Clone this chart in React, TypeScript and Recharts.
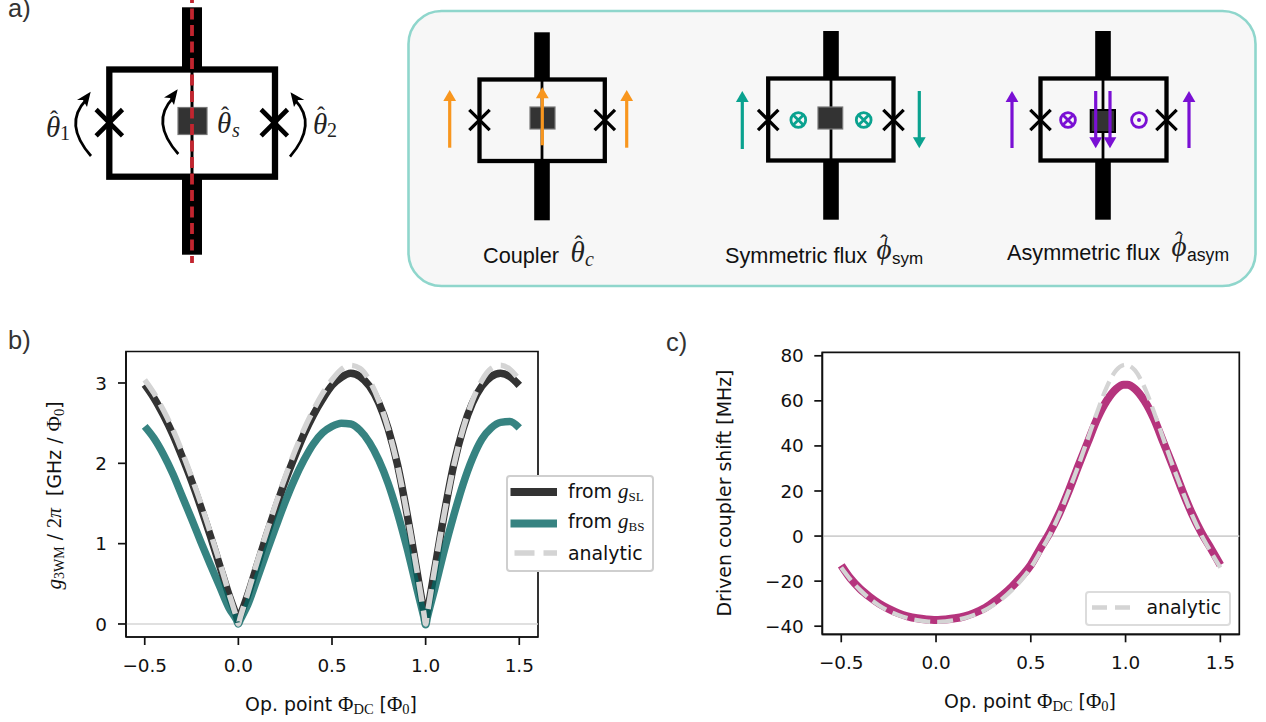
// Flux-biased SNAIL coupler figure: schematic on top, g3WM and driven shift below.
import { LineChart, Line, XAxis, YAxis, Legend, Label, ReferenceArea, ReferenceLine } from "recharts";

const SANS = "'DejaVu Sans', sans-serif";
const SERIF = "'Liberation Serif', serif";
const ARIAL = "'Liberation Sans', sans-serif";
const TICK_SIZE = 18.4;
const LABEL_SIZE = 18.9;

const xTicks = [-0.5, 0, 0.5, 1, 1.5];
const gTicks = [0, 1, 2, 3];
const shiftTicks = [-40, -20, 0, 20, 40, 60, 80];

const flux = [
  -0.5, -0.45, -0.4, -0.35, -0.3, -0.25, -0.2, -0.15, -0.1, -0.05,
  -0.01, 0, 0.01,
  0.05, 0.1, 0.15, 0.2, 0.25, 0.3, 0.35, 0.4, 0.45, 0.5, 0.55, 0.6, 0.65, 0.7, 0.75, 0.8, 0.85, 0.9, 0.95,
  0.99, 1, 1.01,
  1.05, 1.1, 1.15, 1.2, 1.25, 1.3, 1.35, 1.4, 1.45, 1.5,
];

const gSL = [
  2.98, 2.81, 2.6, 2.36, 2.08, 1.78, 1.45, 1.1, 0.73, 0.36,
  0.1, 0.03, 0.1,
  0.36, 0.73, 1.1, 1.45, 1.78, 2.08, 2.36, 2.6, 2.8, 2.97, 3.07, 3.12, 3.08, 2.96, 2.75, 2.43, 1.98, 1.38, 0.7,
  0.16, 0.04, 0.16,
  0.7, 1.38, 1.98, 2.43, 2.75, 2.96, 3.08, 3.12, 3.08, 2.97,
];
const gBS = [
  2.46, 2.31, 2.11, 1.87, 1.59, 1.31, 1.02, 0.74, 0.47, 0.2,
  0.05, 0, 0.05,
  0.24, 0.56, 0.89, 1.21, 1.52, 1.8, 2.04, 2.24, 2.38, 2.46, 2.5, 2.49, 2.41, 2.26, 2.04, 1.75, 1.38, 0.95, 0.47,
  0.09, -0.01, 0.09,
  0.45, 0.92, 1.35, 1.74, 2.06, 2.3, 2.44, 2.51, 2.52, 2.44,
];
const gAnalytic = [
  3.04, 2.87, 2.66, 2.42, 2.14, 1.83, 1.5, 1.14, 0.77, 0.38,
  0.08, 0, 0.08,
  0.38, 0.77, 1.14, 1.5, 1.83, 2.14, 2.42, 2.66, 2.87, 3.04, 3.17, 3.22, 3.18, 3.03, 2.78, 2.43, 1.97, 1.38, 0.71,
  0.14, 0, 0.14,
  0.71, 1.38, 1.97, 2.43, 2.78, 3.03, 3.18, 3.22, 3.17, 3.04,
];
const shift = [
  -13, -19, -23.5, -27, -30, -32.3, -34.2, -35.6, -36.5, -37,
  -37.2, -37.2, -37.2,
  -37, -36.5, -35.6, -34.2, -32.3, -29.5, -26.3, -22.5, -18, -12.8, -5.5, 1.5, 10, 20, 31, 41.5, 52, 60, 65.3,
  67.2, 67.2, 67.2,
  65.3, 60, 52, 41.5, 31, 20, 10, 1.5, -5.5, -12.8,
];
const shiftAnalytic = [
  -14, -19.5, -24, -27.8, -30.8, -33.2, -35, -36.4, -37.3, -37.9,
  -38.1, -38.1, -38.1,
  -37.9, -37.3, -36.4, -35, -33.2, -30.8, -27.8, -24, -19.5, -14, -7, 0.5, 9.5, 20, 31, 43, 55, 66, 73.5,
  75.9, 76, 75.9,
  73.5, 66, 55, 43, 31, 20, 9.5, 0.5, -7, -14,
];

const gRows = flux.map((x, i) => ({ x, sl: gSL[i], bs: gBS[i], analytic: gAnalytic[i] }));
const shiftRows = flux.map((x, i) => ({ x, shift: shift[i], analytic: shiftAnalytic[i] }));

const DARK = "#333333";
const TEAL = "#046461";
const PINK = "#b5347d";
const GRAY = "#d4d4d4";
const ORANGE = "#f8961e";
const GREEN = "#0aa28f";
const PURPLE = "#7a10d4";

const fmtX = (v: number) => v.toFixed(1).replace("-", "\u2212");
const fmtY = (v: number) => String(v).replace("-", "\u2212");

function OpPointLabel({ cx, y }: { cx: number; y: number }) {
  return (
    <text x={cx} y={y} textAnchor="middle" fontFamily={SANS} fontSize={LABEL_SIZE} fill="#111">
      Op. point{" "}
      <tspan fontFamily={SERIF} fontSize={21}>{"\u03A6"}</tspan>
      <tspan fontFamily={SERIF} fontSize={14.5} dy={3}>DC</tspan>
      <tspan dy={-3}> [</tspan>
      <tspan fontFamily={SERIF} fontSize={21}>{"\u03A6"}</tspan>
      <tspan fontFamily={SERIF} fontSize={14.5} dy={3}>0</tspan>
      <tspan dy={-3}>]</tspan>
    </text>
  );
}

function GLegend() {
  return (
    <svg width={150} height={98} style={{ display: "block" }}>
      <rect x={1} y={1} width={146} height={95} rx={3} fill="#fff" stroke="#cfcfcf" strokeWidth={2} />
      <line x1={4.5} x2={51} y1={17} y2={17} stroke={DARK} strokeWidth={8} />
      <line x1={4.5} x2={51} y1={48.5} y2={48.5} stroke={TEAL} strokeOpacity={0.8} strokeWidth={8} />
      <line x1={4.5} x2={51} y1={78} y2={78} stroke={GRAY} strokeWidth={5.5} strokeDasharray="20 9" strokeDashoffset={-4} />
      <text x={62} y={22.5} fontFamily={SANS} fontSize={LABEL_SIZE} fill="#111">
        from <tspan fontFamily={SERIF} fontStyle="italic" fontSize={21}>g</tspan>
        <tspan fontFamily={SERIF} fontSize={13} dy={3}>SL</tspan>
      </text>
      <text x={62} y={53} fontFamily={SANS} fontSize={LABEL_SIZE} fill="#111">
        from <tspan fontFamily={SERIF} fontStyle="italic" fontSize={21}>g</tspan>
        <tspan fontFamily={SERIF} fontSize={13} dy={3}>BS</tspan>
      </text>
      <text x={62} y={85} fontFamily={SANS} fontSize={LABEL_SIZE} fill="#111">analytic</text>
    </svg>
  );
}

function ShiftLegend() {
  return (
    <svg width={147} height={36} style={{ display: "block" }}>
      <rect x={1} y={1} width={144} height={33} rx={3} fill="#fff" stroke="#dcdcdc" strokeWidth={2} />
      <line x1={7} x2={45} y1={16.5} y2={16.5} stroke={GRAY} strokeWidth={4.3} strokeDasharray="15 8" />
      <text x={61.5} y={23} fontFamily={SANS} fontSize={LABEL_SIZE} fill="#111">analytic</text>
    </svg>
  );
}

function FluxArrow({ x, from, to, color }: { x: number; from: number; to: number; color: string }) {
  const dir = to < from ? 1 : -1;
  return (
    <g>
      <line x1={x} x2={x} y1={from} y2={to + dir * 8} stroke={color} strokeWidth={3.2} />
      <polygon points={`${x},${to} ${x - 6.4},${to + dir * 11} ${x + 6.4},${to + dir * 11}`} fill={color} />
    </g>
  );
}

function Junction({ x, y, r, w }: { x: number; y: number; r: number; w: number }) {
  return (
    <path d={`M${x - r} ${y - r}L${x + r} ${y + r}M${x - r} ${y + r}L${x + r} ${y - r}`} stroke="#000" strokeWidth={w} fill="none" />
  );
}

function Crossed({ x, y, color }: { x: number; y: number; color: string }) {
  const d = 5.6;
  return (
    <g stroke={color} fill="none" strokeWidth={2.8}>
      <circle cx={x} cy={y} r={7.4} />
      <path d={`M${x - d} ${y - d}L${x + d} ${y + d}M${x - d} ${y + d}L${x + d} ${y - d}`} />
    </g>
  );
}

function Dotted({ x, y, color }: { x: number; y: number; color: string }) {
  return (
    <g>
      <circle cx={x} cy={y} r={7.4} stroke={color} fill="none" strokeWidth={2.8} />
      <circle cx={x} cy={y} r={2} fill={color} />
    </g>
  );
}

// hatted symbol: glyph plus a separate circumflex, since the combining one lands off the glyph
function Hatted({ x, y, glyph, hatX, hatY }: { x: number; y: number; glyph: string; hatX: number; hatY: number }) {
  return (
    <g fontFamily={SERIF} fill="#222">
      <text x={x} y={y} fontStyle="italic" fontSize={29}>{glyph}</text>
      <text x={hatX} y={hatY} fontSize={24} textAnchor="middle">{"\u02C6"}</text>
    </g>
  );
}

// one small SNAIL loop: stubs, frame, center wire, square, two junctions
function Loop({ barX, l, r, top, bottom, barTop, barBottom, sq, sqStroke }: any) {
  return (
    <g>
      <rect x={barX - 7.8} y={barTop} width={15.6} height={top - barTop} fill="#000" />
      <rect x={barX - 7.8} y={bottom} width={15.6} height={barBottom - bottom} fill="#000" />
      <rect x={l} y={top} width={r - l} height={bottom - top} fill="none" stroke="#000" strokeWidth={4.3} />
      <line x1={barX} x2={barX} y1={top} y2={bottom} stroke="#000" strokeWidth={2.8} />
      <rect x={sq[0]} y={sq[1]} width={sq[2]} height={sq[3]} fill="#333" stroke={sqStroke} strokeWidth={sqStroke === "#000" ? 2 : 1.2} />
      <Junction x={l} y={120} r={10.2} w={3.3} />
      <Junction x={r} y={120} r={10.2} w={3.3} />
    </g>
  );
}

function CurvedArrow({ d, head }: { d: string; head: string }) {
  return (
    <g>
      <path d={d} fill="none" stroke="#000" strokeWidth={2.7} />
      <polygon points={head} fill="#000" />
    </g>
  );
}

function Schematic() {
  return (
    <svg width={1266} height={722} style={{ position: "absolute", left: 0, top: 0 }}>
      <g fontFamily={ARIAL} fontSize={25.5} fill="#333">
        <text x={8} y={17}>a)</text>
        <text x={8} y={349}>b)</text>
        <text x={666} y={351}>c)</text>
      </g>

      {/* a) main loop */}
      <rect x={182} y={7.3} width={20} height={62} fill="#000" />
      <rect x={182} y={177} width={20} height={77.7} fill="#000" />
      <rect x={109.3} y={69.5} width={165.7} height={107.2} fill="none" stroke="#000" strokeWidth={6.3} />
      <line x1={192} x2={192} y1={70} y2={176} stroke="#000" strokeWidth={3} />
      <rect x={178} y={107.5} width={29} height={27} fill="#333" stroke="#777" strokeWidth={1.2} />
      <line x1={192} x2={192} y1={-8} y2={263} stroke="#c2252f" strokeWidth={3.8} strokeDasharray="11 5.5" />
      <Junction x={109.3} y={122.7} r={13.2} w={4.6} />
      <Junction x={274.3} y={122.7} r={13.2} w={4.6} />
      <CurvedArrow d="M91 156Q63 124 86 100" head="90.7,91.7 77,100 83,100 87,107" />
      <CurvedArrow d="M178.3 154Q150 122 173 98" head="177.7,89.3 164,97.5 170,98 174,105" />
      <CurvedArrow d="M290 156.7Q318 124 295 100" head="290.5,92.3 304.3,100 298,100 294,107" />
      <Hatted x={46} y={137} glyph={"\u03B8"} hatX={54} hatY={127} />
      <text x={60} y={140} fontFamily={SERIF} fontSize={20} fill="#222">1</text>
      <Hatted x={217} y={133} glyph={"\u03B8"} hatX={225} hatY={123} />
      <text x={232} y={137} fontFamily={SERIF} fontStyle="italic" fontSize={20} fill="#222">s</text>
      <Hatted x={313} y={134} glyph={"\u03B8"} hatX={321} hatY={123} />
      <text x={327} y={137} fontFamily={SERIF} fontSize={20} fill="#222">2</text>

      {/* modes panel */}
      <rect x={408.5} y={11} width={847} height={275} rx={33} fill="#f7f7f7" stroke="#8fd6cc" strokeWidth={2.6} />

      <Loop barX={542} l={479.5} r={604.8} top={79.5} bottom={161} barTop={32.3} barBottom={220.3} sq={[530, 107, 25, 22]} sqStroke="#777" />
      <FluxArrow x={449.7} from={147.7} to={90} color={ORANGE} />
      <FluxArrow x={542.3} from={145.3} to={87.3} color={ORANGE} />
      <FluxArrow x={626.7} from={147.7} to={90} color={ORANGE} />
      <text x={483} y={263} fontFamily={ARIAL} fontSize={21.7} fill="#111">Coupler</text>
      <Hatted x={570.5} y={262} glyph={"\u03B8"} hatX={578.5} hatY={252} />
      <text x={585} y={266} fontFamily={SERIF} fontStyle="italic" fontSize={20} fill="#222">c</text>

      <Loop barX={831} l={768.2} r={893.5} top={78.5} bottom={160.5} barTop={31} barBottom={219.7} sq={[818, 107, 24.7, 22]} sqStroke="#777" />
      <FluxArrow x={742.3} from={149} to={91} color={GREEN} />
      <FluxArrow x={919.3} from={91} to={148.3} color={GREEN} />
      <Crossed x={798.3} y={120} color={GREEN} />
      <Crossed x={863.7} y={120} color={GREEN} />
      <text x={725} y={263} fontFamily={ARIAL} fontSize={21.7} fill="#111">Symmetric flux</text>
      <Hatted x={876.5} y={259} glyph={"\u03D5"} hatX={884} hatY={251} />
      <text x={892} y={264} fontFamily={ARIAL} fontSize={17} fill="#111">sym</text>

      <Loop barX={1103} l={1040.5} r={1166.5} top={78.5} bottom={160.5} barTop={31} barBottom={219.7} sq={[1090.7, 110, 24.3, 22]} sqStroke="#000" />
      <FluxArrow x={1012} from={148} to={91} color={PURPLE} />
      <FluxArrow x={1189} from={148} to={91} color={PURPLE} />
      <FluxArrow x={1095.7} from={91} to={148.3} color={PURPLE} />
      <FluxArrow x={1110} from={91} to={148.3} color={PURPLE} />
      <Crossed x={1068} y={120} color={PURPLE} />
      <Dotted x={1139} y={120} color={PURPLE} />
      <text x={1007} y={260} fontFamily={ARIAL} fontSize={21.7} fill="#111">Asymmetric flux</text>
      <Hatted x={1171.5} y={256} glyph={"\u03D5"} hatX={1179} hatY={248} />
      <text x={1187} y={261} fontFamily={ARIAL} fontSize={17.6} fill="#111">asym</text>
    </svg>
  );
}

const tickStyle = { fontFamily: SANS, fontSize: TICK_SIZE, fill: "#111" };
const axisLine = { stroke: "#111", strokeWidth: 1.7 };

export default function App() {
  return (
    <div style={{ position: "absolute", left: 0, top: 0, width: 1266, height: 722, background: "#fff", overflow: "hidden" }}>
      <Schematic />

      <div style={{ position: "absolute", left: 0, top: 320 }}>
        <LineChart width={660} height={400} data={gRows} margin={{ top: 31.5, right: 122, bottom: 43, left: 76 }}>
          <XAxis
            dataKey="x" type="number" domain={[-0.6, 1.6]} ticks={xTicks} tickFormatter={fmtX}
            height={40} tickSize={8} tickMargin={14} tick={tickStyle} axisLine={axisLine} tickLine={axisLine} allowDataOverflow
          >
            <Label content={() => <OpPointLabel cx={331} y={390.5} />} />
          </XAxis>
          <YAxis
            type="number" domain={[-0.162, 3.392]} ticks={gTicks} tickFormatter={fmtY}
            width={50} tickSize={8} tickMargin={11} tick={tickStyle} axisLine={axisLine} tickLine={axisLine} allowDataOverflow
          >
            <Label
              content={() => (
                <text transform="translate(61 175.5) rotate(-90)" textAnchor="middle" fontFamily={SANS} fontSize={LABEL_SIZE} fill="#111">
                  <tspan fontFamily={SERIF} fontStyle="italic" fontSize={21}>g</tspan>
                  <tspan fontFamily={SERIF} fontSize={14} dy={3}>3WM</tspan>
                  <tspan dy={-3}>{"\u00A0/\u00A0"}</tspan>
                  <tspan fontFamily={SERIF} fontSize={20}>2</tspan>
                  <tspan fontFamily={SERIF} fontStyle="italic" fontSize={20}>{"\u03C0"}</tspan>
                  <tspan>{"\u00A0\u00A0[GHz / "}</tspan>
                  <tspan fontFamily={SERIF} fontSize={21}>{"\u03A6"}</tspan>
                  <tspan fontFamily={SERIF} fontSize={14.5} dy={3}>0</tspan>
                  <tspan dy={-3}>]</tspan>
                </text>
              )}
            />
          </YAxis>
          <ReferenceLine y={0} stroke="#d6d6d6" strokeWidth={1.7} />
          <ReferenceArea x1={-0.6} x2={1.6} y1={-0.162} y2={3.392} fill="none" stroke="#111" strokeWidth={1.7} />
          <Line dataKey="sl" name="from gSL" stroke={DARK} strokeWidth={7.5} dot={false} type="monotoneX" isAnimationActive={false} />
          <Line dataKey="bs" name="from gBS" stroke={TEAL} strokeOpacity={0.8} strokeWidth={7.5} dot={false} type="monotoneX" isAnimationActive={false} />
          <Line dataKey="analytic" name="analytic" stroke={GRAY} strokeWidth={5.5} strokeDasharray="20 9" dot={false} type="monotoneX" isAnimationActive={false} />
          <Legend
            layout="vertical" align="center" verticalAlign="middle" content={() => <GLegend />}
            wrapperStyle={{ left: 505.5, top: 154.5, width: 150, height: 98 }}
          />
        </LineChart>
      </div>

      <div style={{ position: "absolute", left: 660, top: 320 }}>
        <LineChart width={606} height={400} data={shiftRows} margin={{ top: 32.3, right: 26.7, bottom: 45.7, left: 112.3 }}>
          <XAxis
            dataKey="x" type="number" domain={[-0.6, 1.6]} ticks={xTicks} tickFormatter={fmtX}
            height={40} tickSize={8} tickMargin={14} tick={tickStyle} axisLine={axisLine} tickLine={axisLine} allowDataOverflow
          >
            <Label content={() => <OpPointLabel cx={370} y={388} />} />
          </XAxis>
          <YAxis
            type="number" domain={[-43.6, 81.55]} ticks={shiftTicks} tickFormatter={fmtY}
            width={50} tickSize={8} tickMargin={10.5} tick={tickStyle} axisLine={axisLine} tickLine={axisLine} allowDataOverflow
          >
            <Label
              content={() => (
                <text transform="translate(70.5 173) rotate(-90)" textAnchor="middle" fontFamily={SANS} fontSize={LABEL_SIZE} fill="#111">
                  Driven coupler shift [MHz]
                </text>
              )}
            />
          </YAxis>
          <ReferenceLine y={0} stroke="#d0d0d0" strokeWidth={1.7} />
          <ReferenceArea x1={-0.6} x2={1.6} y1={-43.6} y2={81.55} fill="none" stroke="#111" strokeWidth={1.7} />
          <Line dataKey="shift" name="shift" stroke={PINK} strokeWidth={8} dot={false} type="monotoneX" isAnimationActive={false} />
          <Line dataKey="analytic" name="analytic" stroke={GRAY} strokeWidth={4.3} strokeDasharray="16 7" dot={false} type="monotoneX" isAnimationActive={false} />
          <Legend
            layout="vertical" align="center" verticalAlign="middle" content={() => <ShiftLegend />}
            wrapperStyle={{ left: 425, top: 270.5, width: 147, height: 36 }}
          />
        </LineChart>
      </div>
    </div>
  );
}
